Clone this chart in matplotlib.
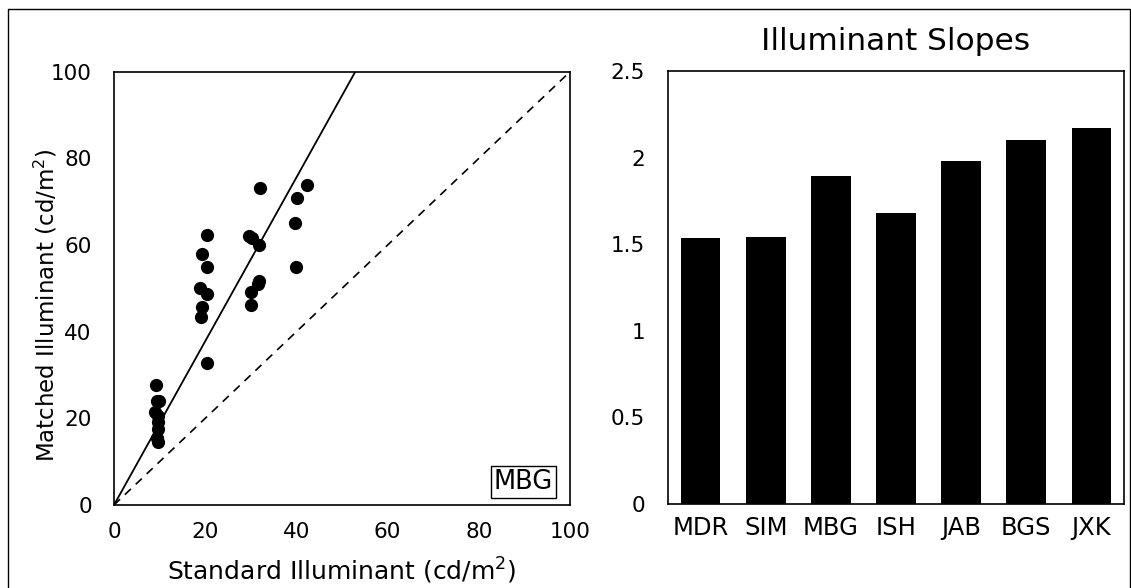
import matplotlib.pyplot as plt
from matplotlib.lines import Line2D

plt.rcParams['font.family'] = ['DejaVu Sans']

# puntos del observador MBG (estandar, igualado) en cd/m2
estandar = [32.0, 42.3, 40.2, 39.7, 40.0, 20.5, 29.5, 30.2, 31.8, 19.2,
            20.4, 31.8, 31.6, 18.9, 20.5, 30.0, 19.2, 30.0, 19.0, 20.4,
            9.2, 9.4, 9.9, 9.0, 9.6, 9.7, 9.7, 9.5, 9.7]
igualado = [73.1, 73.9, 70.8, 65.0, 54.9, 62.4, 62.2, 61.6, 59.9, 57.9,
            54.9, 51.7, 51.0, 50.0, 48.7, 49.1, 45.8, 46.2, 43.5, 32.7,
            27.6, 24.1, 23.9, 21.5, 20.6, 19.2, 17.5, 15.4, 14.6]
pendiente_mbg = 1.89

# pendientes por observador
observadores = ['MDR', 'SIM', 'MBG', 'ISH', 'JAB', 'BGS', 'JXK']
pendientes = [1.533, 1.543, 1.893, 1.679, 1.979, 2.104, 2.170]

fig = plt.figure(figsize=(11.31, 5.88), dpi=100)

# marco exterior
fig.add_artist(Line2D([0.0075, 0.0075, 0.999, 0.999], [-0.01, 0.985, 0.985, -0.01],
                      transform=fig.transFigure, color='black', lw=1.0))

# panel izquierdo: dispersion
ax1 = fig.add_axes([0.1008, 0.1412, 0.4032, 0.7368])
ax1.plot(estandar, igualado, 'o', color='black', markersize=8.5)
ax1.plot([0, 100], [0, 100 * pendiente_mbg], color='black', lw=1.3)
ax1.plot([0, 100], [0, 100], color='black', lw=1.2, dashes=(5, 4))
ax1.set_xlim(0, 100)
ax1.set_ylim(0, 100)
ax1.set_xticks([0, 20, 40, 60, 80, 100])
ax1.set_yticks([0, 20, 40, 60, 80, 100])
ax1.tick_params(length=0, labelsize=15.5, pad=16)
ax1.tick_params(axis='x', pad=12)
ax1.set_xlabel('Standard Illuminant (cd/m$^2$)', fontsize=18)
ax1.set_ylabel('Matched Illuminant (cd/m$^2$)', fontsize=16.5)
ax1.xaxis.set_label_coords(0.5, -0.118)
ax1.yaxis.set_label_coords(-0.12, 0.46)
ax1.text(96.3, 2.3, 'MBG', fontsize=18.5, ha='right', va='bottom',
         bbox=dict(boxstyle='square,pad=0.12', fc='white', ec='black', lw=1))
for s in ax1.spines.values():
    s.set_linewidth(1.2)

# panel derecho: barras
ax2 = fig.add_axes([0.5906, 0.1429, 0.4032, 0.7364])
ax2.bar(range(len(observadores)), pendientes, width=0.61, color='black')
ax2.set_xlim(-0.5, len(observadores) - 0.5)
ax2.set_ylim(0, 2.5)
ax2.set_yticks([0, 0.5, 1, 1.5, 2, 2.5])
ax2.set_yticklabels(['0', '0.5', '1', '1.5', '2', '2.5'])
ax2.set_xticks(range(len(observadores)))
ax2.set_xticklabels(observadores)
ax2.tick_params(axis='y', length=0, labelsize=15.5, pad=16.5)
ax2.tick_params(axis='x', length=0, labelsize=17.5, pad=9)
ax2.set_title('Illuminant Slopes', fontsize=22.5, pad=15)
for s in ax2.spines.values():
    s.set_linewidth(1.2)

fig.savefig('out.png', dpi=100)
